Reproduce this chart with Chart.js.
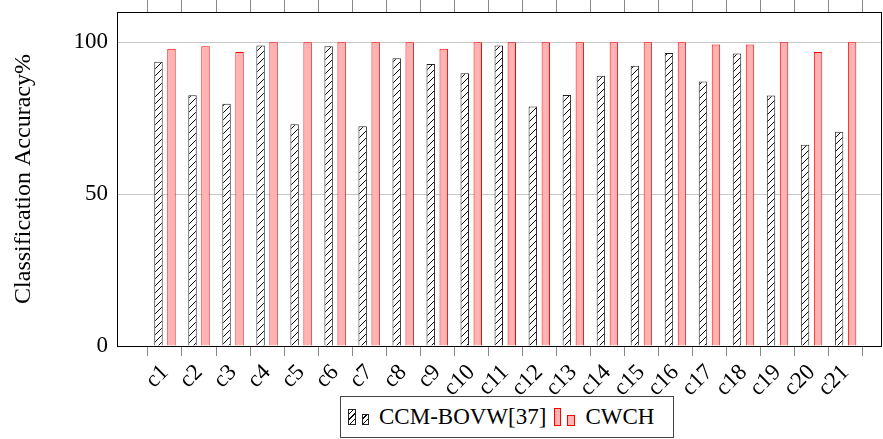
<!DOCTYPE html>
<html>
<head>
<meta charset="utf-8">
<script src="https://cdn.jsdelivr.net/npm/chart.js@4.4.0/dist/chart.umd.min.js"></script>
<style>
  html, body { margin: 0; padding: 0; background: #fff; }
  #wrap { position: relative; width: 883px; height: 439px; font-family: 'Liberation Serif', 'Times New Roman', serif; }
  #legend {
    position: absolute; left: 340px; top: 396px; width: 334px; height: 42px;
    box-sizing: border-box; border: 1px solid #444; background: #fff;
    display: flex; align-items: center; font-size: 23px; color: #000; padding-left: 7px;
  }
  .ico { display: inline-block; box-sizing: border-box; margin-right: 6px; }
  .hatch { border: 1px solid #222; background: #fff repeating-linear-gradient(-45deg, #fff 0 3px, #000 3px 4px); }
  .red { border: 1px solid #f00; background: #ffb3b3; }
  .lbl { margin-right: 8px; margin-left: 4px; }
</style>
</head>
<body>
<div id="wrap">
  <canvas id="chart" width="883" height="439"></canvas>
  <div id="legend">
    <span class="ico hatch" style="width:8px;height:16px"></span>
    <span class="ico hatch" style="width:7px;height:11px;margin-top:5px"></span>
    <span class="lbl">CCM-BOVW[37]</span>
    <span class="ico red" style="width:7px;height:18px"></span>
    <span class="ico red" style="width:8px;height:11px;margin-top:7px"></span>
    <span class="lbl">CWCH</span>
  </div>
</div>
<script>
const CATEGORIES = ['c1', 'c2', 'c3', 'c4', 'c5', 'c6', 'c7', 'c8', 'c9', 'c10', 'c11',
  'c12', 'c13', 'c14', 'c15', 'c16', 'c17', 'c18', 'c19', 'c20', 'c21'];
const CCM_BOVW = [93.6, 82.6, 79.8, 99.0, 73.0, 98.7, 72.4, 94.8, 92.9, 89.8, 99.0,
  78.9, 82.7, 89.0, 92.3, 96.5, 87.1, 96.3, 82.5, 66.3, 70.6];
const CWCH = [97.9, 98.7, 96.8, 100, 100, 100, 100, 100, 97.9, 100, 100,
  100, 100, 100, 100, 100, 99.3, 99.3, 100, 96.8, 100];
const Y_TICKS = [0, 50, 100];

Chart.defaults.font.family = "'Liberation Serif', 'Times New Roman', serif";
Chart.defaults.color = '#000';

function make_hatch() {
  const c = document.createElement('canvas');
  c.width = 7; c.height = 7;
  const g = c.getContext('2d');
  g.fillStyle = '#fff';
  g.fillRect(0, 0, 7, 7);
  g.strokeStyle = '#000';
  g.lineWidth = 1;
  g.beginPath();
  g.moveTo(0, 7); g.lineTo(7, 0);
  g.moveTo(-1, 1); g.lineTo(1, -1);
  g.moveTo(6, 8); g.lineTo(8, 6);
  g.stroke();
  return g.createPattern(c, 'repeat');
}

const X_TICK_VALUES = CATEGORIES.map((_, i) => i + 1);
function set_x_ticks(scale) {
  scale.ticks = X_TICK_VALUES.map(v => ({ value: v }));
}
function no_side_padding(scale) {
  scale.paddingLeft = 0;
  scale.paddingRight = 0;
  scale.paddingTop = 0;
  scale.paddingBottom = 0;
}

const frame = {
  id: 'frame',
  afterDatasetsDraw(chart) {
    const a = chart.chartArea;
    const ctx = chart.ctx;
    ctx.save();
    ctx.strokeStyle = '#000';
    ctx.lineWidth = 1;
    ctx.strokeRect(Math.round(a.left) + 0.5, Math.round(a.top) + 0.5,
      Math.round(a.right - a.left) - 1, Math.round(a.bottom - a.top));
    ctx.restore();
  },
};

new Chart(document.getElementById('chart'), {
  type: 'bar',
  data: {
    datasets: [
      {
        label: 'CCM-BOVW[37]',
        data: CCM_BOVW.map((v, i) => ({ x: i + 1, y: v })),
        backgroundColor: make_hatch(),
        borderColor: '#222',
        borderWidth: 1,
      },
      {
        label: 'CWCH',
        data: CWCH.map((v, i) => ({ x: i + 1, y: v })),
        backgroundColor: '#ffb3b3',
        borderColor: '#ff0000',
        borderWidth: 1,
      },
    ],
  },
  options: {
    responsive: false,
    animation: false,
    categoryPercentage: 0.764,
    barPercentage: 0.65,
    layout: { padding: { left: 0, right: 1, top: 0, bottom: 0 } },
    plugins: {
      legend: { display: false },
      tooltip: { enabled: false },
    },
    scales: {
      x: {
        type: 'linear',
        position: 'bottom',
        offset: false,
        min: -0.41,
        max: 22.07,
        afterBuildTicks: set_x_ticks,
        afterFit: (s) => { s.height = 93; no_side_padding(s); },
        border: { display: false },
        grid: { drawOnChartArea: false, drawTicks: true, tickLength: 10, color: '#888' },
        ticks: {
          autoSkip: false,
          minRotation: 45,
          maxRotation: 45,
          padding: 3,
          font: { size: 23 },
          callback: (v) => CATEGORIES[v - 1],
        },
      },
      x2: {
        type: 'linear',
        position: 'top',
        offset: false,
        min: -0.41,
        max: 22.07,
        afterBuildTicks: set_x_ticks,
        afterFit: (s) => { s.height = 12; no_side_padding(s); },
        border: { display: false },
        grid: { drawOnChartArea: false, drawTicks: true, tickLength: 12, color: '#888' },
        ticks: { display: false },
      },
      y: {
        min: 0,
        max: 110,
        afterBuildTicks: (s) => { s.ticks = Y_TICKS.map(v => ({ value: v })); },
        afterFit: (s) => { s.width = 117; no_side_padding(s); },
        border: { display: false },
        grid: {
          drawTicks: false,
          color: (c) => (c.tick && c.tick.value === 0 ? 'rgba(0,0,0,0)' : '#c8c8c8'),
        },
        ticks: { padding: 9, font: { size: 23 } },
        title: {
          display: true,
          text: 'Classification Accuracy%',
          font: { size: 24 },
          padding: { top: 9, bottom: 0 },
        },
      },
    },
  },
  plugins: [frame],
});
</script>
</body>
</html>
